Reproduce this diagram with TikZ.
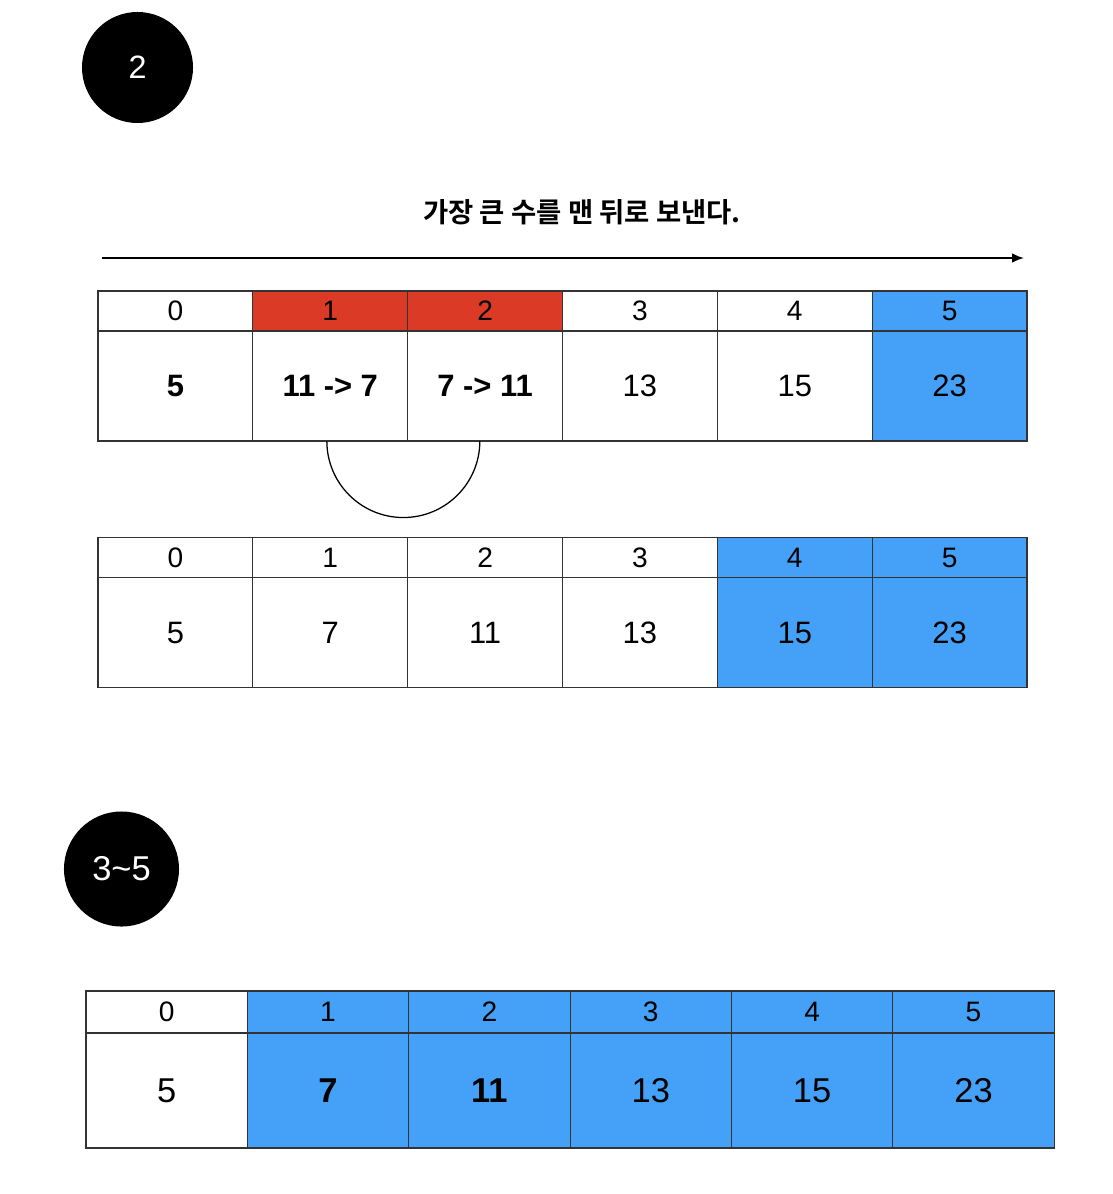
\documentclass[tikz,border=0pt]{standalone}
\usepackage{fontspec}
\setmainfont{Liberation Sans}
\newfontfamily\kofont{Noto Sans CJK KR}[BoldFont={Noto Sans CJK KR Bold}]
\usepackage{tikz}
\usepackage{xcolor}
\usetikzlibrary{positioning,arrows.meta}
\definecolor{swapred}{HTML}{DB3A26}
\definecolor{doneblue}{HTML}{44A1F7}
\tikzstyle{idx} = [rectangle, draw=black!80, line width=0.8pt, outer sep=0pt, inner sep=0pt, minimum width=3.87cm, minimum height=1cm, font=\fontsize{20}{24}\selectfont]
\tikzstyle{val} = [idx, minimum height=2.75cm, font=\fontsize{22}{26}\selectfont]
\tikzstyle{idxw} = [idx, minimum width=4.033cm, minimum height=1.05cm]
\tikzstyle{valw} = [idxw, minimum height=2.875cm, font=\fontsize{24.5}{29}\selectfont]
\tikzstyle{badge} = [circle, fill=black, text=white, inner sep=0pt]

\begin{document}
\begin{tikzpicture}[x=0.025cm,y=-0.025cm,>={Latex[length=0.3cm,width=0.24cm]},semithick]
  \useasboundingbox (0,0) rectangle (1112,1194);
  \node[badge, minimum size=2.775cm, font=\fontsize{23}{27}\selectfont] (B2) at (137.5,67.5) {2};
  \node[font=\kofont\bfseries\fontsize{19.5}{23}\selectfont] (title) at (582,212) {가장 큰 수를 맨 뒤로 보낸다.};
  \coordinate (a0) at (102,258);
  \coordinate (a1) at (1024,258);
  \draw[->, line width=1.2pt] (a0) -- (a1);

  % first pass
  \node[idx] (h10) at (175.4,311) {0};
  \node[idx, fill=swapred] (h11) [right=0pt of h10] {1};
  \node[idx, fill=swapred] (h12) [right=0pt of h11] {2};
  \node[idx] (h13) [right=0pt of h12] {3};
  \node[idx] (h14) [right=0pt of h13] {4};
  \node[idx, fill=doneblue] (h15) [right=0pt of h14] {5};
  \node[val] (v10) [below=0pt of h10] {\textbf{5}};
  \node[val] (v11) [below=0pt of h11] {\textbf{11 -> 7}};
  \node[val] (v12) [below=0pt of h12] {\textbf{7 -> 11}};
  \node[val] (v13) [below=0pt of h13] {13};
  \node[val] (v14) [below=0pt of h14] {15};
  \node[val, fill=doneblue] (v15) [below=0pt of h15] {23};
  \draw[line width=0.9pt] ([xshift=-0.085cm]v11.south) arc[start angle=180, end angle=0, radius=76.5];

  % after pass 2
  \node[idx] (h20) at (175.4,557.5) {0};
  \node[idx] (h21) [right=0pt of h20] {1};
  \node[idx] (h22) [right=0pt of h21] {2};
  \node[idx] (h23) [right=0pt of h22] {3};
  \node[idx, fill=doneblue] (h24) [right=0pt of h23] {4};
  \node[idx, fill=doneblue] (h25) [right=0pt of h24] {5};
  \node[val] (v20) [below=0pt of h20] {5};
  \node[val] (v21) [below=0pt of h21] {7};
  \node[val] (v22) [below=0pt of h22] {11};
  \node[val] (v23) [below=0pt of h23] {13};
  \node[val, fill=doneblue] (v24) [below=0pt of h24] {15};
  \node[val, fill=doneblue] (v25) [below=0pt of h25] {23};

  \node[badge, minimum size=2.875cm, font=\fontsize{24.5}{29}\selectfont] (B35) at (121.5,869) {3\char`~5};

  % passes 3 to 5
  \node[idxw] (h30) at (166.7,1012) {0};
  \node[idxw, fill=doneblue] (h31) [right=0pt of h30] {1};
  \node[idxw, fill=doneblue] (h32) [right=0pt of h31] {2};
  \node[idxw, fill=doneblue] (h33) [right=0pt of h32] {3};
  \node[idxw, fill=doneblue] (h34) [right=0pt of h33] {4};
  \node[idxw, fill=doneblue] (h35) [right=0pt of h34] {5};
  \node[valw] (v30) [below=0pt of h30] {5};
  \node[valw, fill=doneblue] (v31) [below=0pt of h31] {\textbf{7}};
  \node[valw, fill=doneblue] (v32) [below=0pt of h32] {\textbf{11}};
  \node[valw, fill=doneblue] (v33) [below=0pt of h33] {13};
  \node[valw, fill=doneblue] (v34) [below=0pt of h34] {15};
  \node[valw, fill=doneblue] (v35) [below=0pt of h35] {23};
\end{tikzpicture}
\end{document}
